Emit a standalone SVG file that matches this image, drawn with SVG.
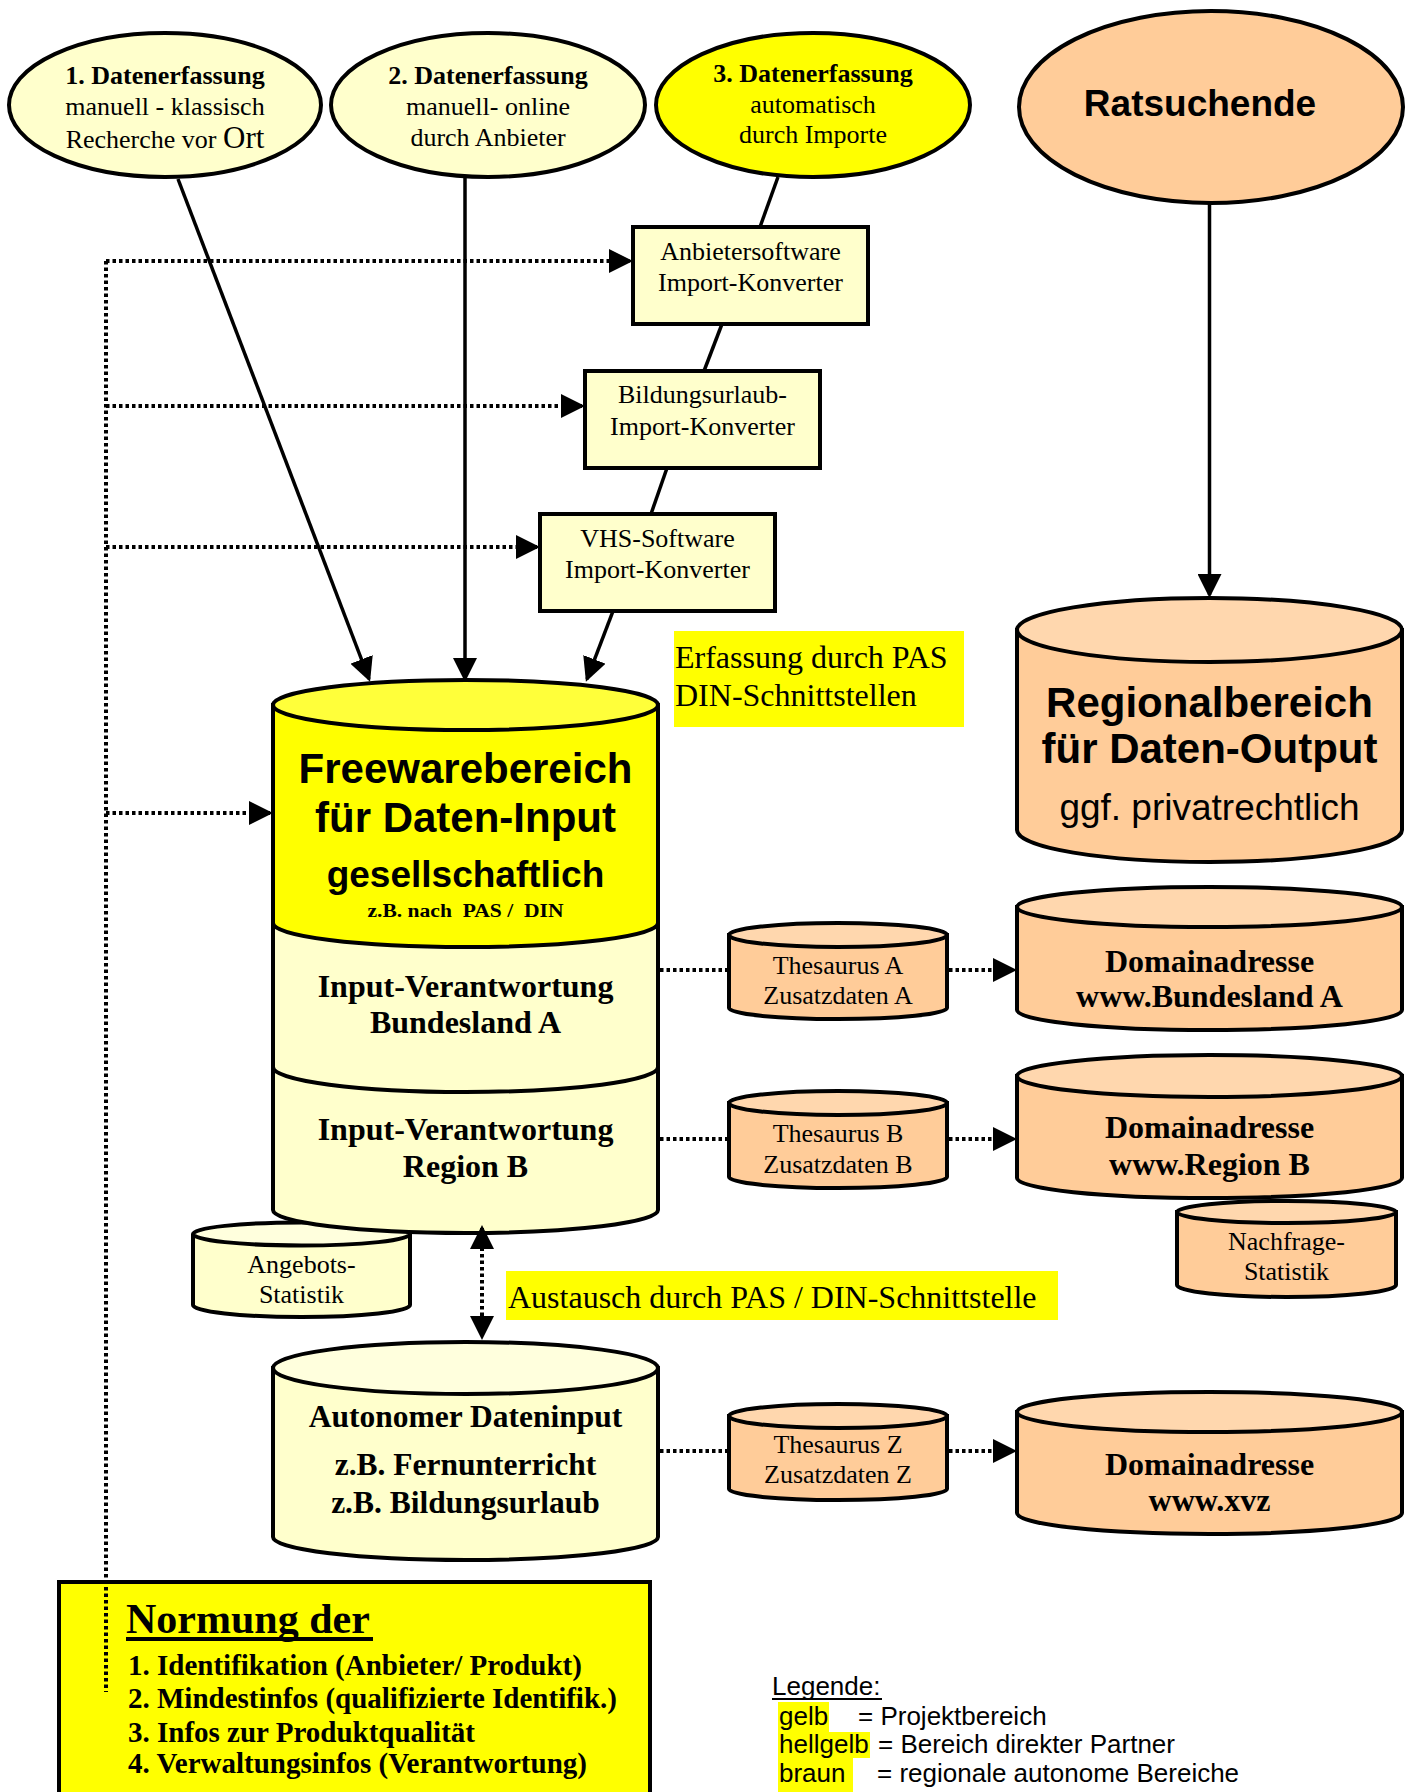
<svg xmlns="http://www.w3.org/2000/svg" width="1413" height="1792" viewBox="0 0 1413 1792">
<style>
.sh{stroke:#000;stroke-width:4}
.ly{fill:#FFFFCC}.lyt{fill:#FFFFDD}
.ye{fill:#FFFF00}.yet{fill:#FFFF3A}
.or{fill:#FFCC99}.ort{fill:#FFD7AE}
.se{font-family:"Liberation Serif","Times New Roman",serif;fill:#000}
.sa{font-family:"Liberation Sans",Arial,sans-serif;fill:#000}
.b{font-weight:bold}
.m{text-anchor:middle}
.conn{stroke:#000;stroke-width:3.5;fill:none}
.dot{stroke:#000;stroke-width:4;stroke-dasharray:3.5 3;fill:none}
</style>
<defs>
<marker id="ah" viewBox="0 0 24 24" refX="21" refY="12" markerWidth="24" markerHeight="24" markerUnits="userSpaceOnUse" orient="auto-start-reverse"><path d="M0,0L24,12L0,24z" fill="#000"/></marker>
</defs>
<rect width="1413" height="1792" fill="#fff"/>

<g id="erfassung1">
<ellipse class="sh ly" cx="165" cy="105" rx="156" ry="72"/>
<text class="se b m" x="165" y="84" font-size="26">1. Datenerfassung</text>
<text class="se m" x="165" y="115" font-size="26">manuell - klassisch</text>
<text class="se m" x="165" y="148" font-size="26">Recherche vor <tspan font-size="31">Ort</tspan></text>
</g>
<g id="erfassung2">
<ellipse class="sh ly" cx="488" cy="105" rx="157" ry="72"/>
<text class="se b m" x="488" y="84" font-size="26">2. Datenerfassung</text>
<text class="se m" x="488" y="115" font-size="26">manuell- online</text>
<text class="se m" x="488" y="146" font-size="26">durch Anbieter</text>
</g>
<g id="erfassung3">
<ellipse class="sh ye" cx="813" cy="105" rx="157" ry="72"/>
<text class="se b m" x="813" y="82" font-size="26">3. Datenerfassung</text>
<text class="se m" x="813" y="113" font-size="26">automatisch</text>
<text class="se m" x="813" y="143" font-size="26">durch Importe</text>
</g>
<g id="ratsuchende">
<ellipse class="sh or" cx="1211" cy="107" rx="192" ry="96"/>
<text class="sa b m" x="1200" y="116" font-size="37">Ratsuchende</text>
</g>

<g id="anbietersoftware">
<rect class="sh ly" x="633" y="227" width="235" height="97"/>
<text class="se m" x="750.5" y="260" font-size="26">Anbietersoftware</text>
<text class="se m" x="750.5" y="291" font-size="26">Import-Konverter</text>
</g>
<g id="bildungsurlaub">
<rect class="sh ly" x="585" y="371" width="235" height="97"/>
<text class="se m" x="702.5" y="403" font-size="26">Bildungsurlaub-</text>
<text class="se m" x="702.5" y="435" font-size="26">Import-Konverter</text>
</g>
<g id="vhs">
<rect class="sh ly" x="540" y="514" width="235" height="97"/>
<text class="se m" x="657.5" y="547" font-size="26">VHS-Software</text>
<text class="se m" x="657.5" y="578" font-size="26">Import-Konverter</text>
</g>

<g id="label-erfassung">
<rect class="ye" x="674" y="631" width="290" height="96"/>
<text class="se" x="675" y="668" font-size="32">Erfassung durch PAS</text>
<text class="se" x="675" y="706" font-size="32">DIN-Schnittstellen</text>
</g>

<g id="angebots-statistik">
<path class="sh ly" d="M193,1234L193,1305A108.5,12 0 0 0 410,1305L410,1234"/>
<ellipse class="sh lyt" cx="301.5" cy="1234" rx="108.5" ry="11.5"/>
<text class="se m" x="301.5" y="1273" font-size="26">Angebots-</text>
<text class="se m" x="301.5" y="1303" font-size="26">Statistik</text>
</g>

<g id="freewarebereich">
<path class="sh ly" d="M273,1067L273,1210A192.5,23 0 0 0 658,1210L658,1067"/>
<path class="sh ly" d="M273,923L273,1067A192.5,25 0 0 0 658,1067L658,923"/>
<path class="sh ye" d="M273,705L273,923A192.5,24 0 0 0 658,923L658,705Z"/>
<ellipse class="sh yet" cx="465.5" cy="705" rx="192.5" ry="25"/>
<text class="sa b m" x="465.5" y="783" font-size="42">Freewarebereich</text>
<text class="sa b m" x="465.5" y="832" font-size="42">für Daten-Input</text>
<text class="sa b m" x="465.5" y="887" font-size="37">gesellschaftlich</text>
<text class="se b m" x="465.5" y="917" font-size="18" textLength="196" lengthAdjust="spacingAndGlyphs">z.B. nach&#160; PAS /&#160; DIN</text>
<text class="se b m" x="465.5" y="997" font-size="32">Input-Verantwortung</text>
<text class="se b m" x="465.5" y="1033" font-size="32">Bundesland A</text>
<text class="se b m" x="465.5" y="1140" font-size="32">Input-Verantwortung</text>
<text class="se b m" x="465.5" y="1177" font-size="32">Region B</text>
</g>

<g id="label-austausch">
<rect class="ye" x="506" y="1271" width="552" height="49"/>
<text class="se" x="508" y="1308" font-size="32">Austausch durch PAS / DIN-Schnittstelle</text>
</g>

<g id="autonomer">
<path class="sh ly" d="M273,1368L273,1537A192.5,23 0 0 0 658,1537L658,1368Z"/>
<ellipse class="sh lyt" cx="465.5" cy="1368" rx="192.5" ry="26"/>
<text class="se b m" x="465.5" y="1427" font-size="31.5">Autonomer Dateninput</text>
<text class="se b m" x="465.5" y="1475" font-size="31.5">z.B. Fernunterricht</text>
<text class="se b m" x="465.5" y="1513" font-size="31.5">z.B. Bildungsurlaub</text>
</g>

<g id="regionalbereich">
<path class="sh or" d="M1017,630L1017,830A192.5,32 0 0 0 1402,830L1402,630Z"/>
<ellipse class="sh ort" cx="1209.5" cy="630" rx="192.5" ry="32"/>
<text class="sa b m" x="1209.5" y="717" font-size="42">Regionalbereich</text>
<text class="sa b m" x="1209.5" y="763" font-size="42">für Daten-Output</text>
<text class="sa m" x="1209.5" y="820" font-size="37">ggf. privatrechtlich</text>
</g>

<g id="thesaurus-a">
<path class="sh or" d="M729,935L729,1008A109,11 0 0 0 947,1008L947,935Z"/>
<ellipse class="sh ort" cx="838" cy="935" rx="109" ry="12"/>
<text class="se m" x="838" y="974" font-size="26">Thesaurus A</text>
<text class="se m" x="838" y="1004" font-size="26">Zusatzdaten A</text>
</g>
<g id="thesaurus-b">
<path class="sh or" d="M729,1103L729,1177A109,11 0 0 0 947,1177L947,1103Z"/>
<ellipse class="sh ort" cx="838" cy="1103" rx="109" ry="12"/>
<text class="se m" x="838" y="1142" font-size="26">Thesaurus B</text>
<text class="se m" x="838" y="1173" font-size="26">Zusatzdaten B</text>
</g>
<g id="thesaurus-z">
<path class="sh or" d="M729,1416L729,1489A109,11 0 0 0 947,1489L947,1416Z"/>
<ellipse class="sh ort" cx="838" cy="1416" rx="109" ry="12"/>
<text class="se m" x="838" y="1453" font-size="26">Thesaurus Z</text>
<text class="se m" x="838" y="1483" font-size="26">Zusatzdaten Z</text>
</g>

<g id="domain-a">
<path class="sh or" d="M1017,907L1017,1010A192.5,20 0 0 0 1402,1010L1402,907Z"/>
<ellipse class="sh ort" cx="1209.5" cy="907" rx="192.5" ry="20"/>
<text class="se b m" x="1209.5" y="972" font-size="32">Domainadresse</text>
<text class="se b m" x="1209.5" y="1007" font-size="32">www.Bundesland A</text>
</g>
<g id="domain-b">
<path class="sh or" d="M1017,1076L1017,1178A192.5,20 0 0 0 1402,1178L1402,1076Z"/>
<ellipse class="sh ort" cx="1209.5" cy="1076" rx="192.5" ry="21"/>
<text class="se b m" x="1209.5" y="1138" font-size="32">Domainadresse</text>
<text class="se b m" x="1209.5" y="1175" font-size="32">www.Region B</text>
</g>
<g id="nachfrage-statistik">
<path class="sh or" d="M1177,1212L1177,1285A109.5,12 0 0 0 1396,1285L1396,1212Z"/>
<ellipse class="sh ort" cx="1286.5" cy="1212" rx="109.5" ry="11"/>
<text class="se m" x="1286.5" y="1250" font-size="26">Nachfrage-</text>
<text class="se m" x="1286.5" y="1280" font-size="26">Statistik</text>
</g>
<g id="domain-xvz">
<path class="sh or" d="M1017,1412L1017,1513A192.5,21 0 0 0 1402,1513L1402,1412Z"/>
<ellipse class="sh ort" cx="1209.5" cy="1412" rx="192.5" ry="20"/>
<text class="se b m" x="1209.5" y="1475" font-size="32">Domainadresse</text>
<text class="se b m" x="1209.5" y="1511" font-size="32">www.xvz</text>
</g>

<g id="normung">
<rect class="sh ye" x="59" y="1582" width="591" height="230"/>
<text class="se b" x="126" y="1633" font-size="42">Normung der</text>
<rect x="126" y="1637" width="247" height="4" fill="#000"/>
<text class="se b" x="128" y="1675" font-size="29">1. Identifikation (Anbieter/ Produkt)</text>
<text class="se b" x="128" y="1708" font-size="29">2. Mindestinfos (qualifizierte Identifik.)</text>
<text class="se b" x="128" y="1742" font-size="29">3. Infos zur Produktqualität</text>
<text class="se b" x="128" y="1773" font-size="29">4. Verwaltungsinfos (Verantwortung)</text>
</g>

<g id="legende">
<text class="sa" x="772" y="1695" font-size="26">Legende:</text>
<rect x="772" y="1698" width="110" height="2" fill="#000"/>
<rect class="ye" x="778" y="1702" width="51" height="30"/>
<rect class="ye" x="778" y="1732" width="92" height="26"/>
<rect class="ye" x="778" y="1758" width="75" height="34"/>
<text class="sa" x="779" y="1725" font-size="26">gelb</text>
<text class="sa" x="858" y="1725" font-size="26">= Projektbereich</text>
<text class="sa" x="779" y="1753" font-size="26">hellgelb</text>
<text class="sa" x="878" y="1753" font-size="26">= Bereich direkter Partner</text>
<text class="sa" x="779" y="1782" font-size="26">braun</text>
<text class="sa" x="877" y="1782" font-size="26">= regionale autonome Bereiche</text>
</g>

<g id="connectors">
<line class="conn" x1="178" y1="179" x2="369" y2="679" marker-end="url(#ah)"/>
<line class="conn" x1="465" y1="177" x2="465" y2="679" marker-end="url(#ah)"/>
<line class="conn" x1="778" y1="177" x2="760" y2="227"/>
<line class="conn" x1="722" y1="324" x2="704" y2="371"/>
<line class="conn" x1="667" y1="468" x2="651" y2="514"/>
<line class="conn" x1="613" y1="611" x2="587" y2="679" marker-end="url(#ah)"/>
<line class="conn" x1="1209.5" y1="203" x2="1209.5" y2="595" marker-end="url(#ah)"/>
<path class="dot" d="M106,261V1692"/>
<path class="dot" d="M106,261H630" marker-end="url(#ah)"/>
<path class="dot" d="M106,406H582" marker-end="url(#ah)"/>
<path class="dot" d="M106,547H537" marker-end="url(#ah)"/>
<path class="dot" d="M106,813H270" marker-end="url(#ah)"/>
<path class="dot" d="M660,970H729"/>
<path class="dot" d="M949,970H1014" marker-end="url(#ah)"/>
<path class="dot" d="M660,1139H729"/>
<path class="dot" d="M949,1139H1014" marker-end="url(#ah)"/>
<path class="dot" d="M660,1451H729"/>
<path class="dot" d="M949,1451H1014" marker-end="url(#ah)"/>
<path class="dot" d="M482,1228V1337" marker-start="url(#ah)" marker-end="url(#ah)"/>
</g>
</svg>
